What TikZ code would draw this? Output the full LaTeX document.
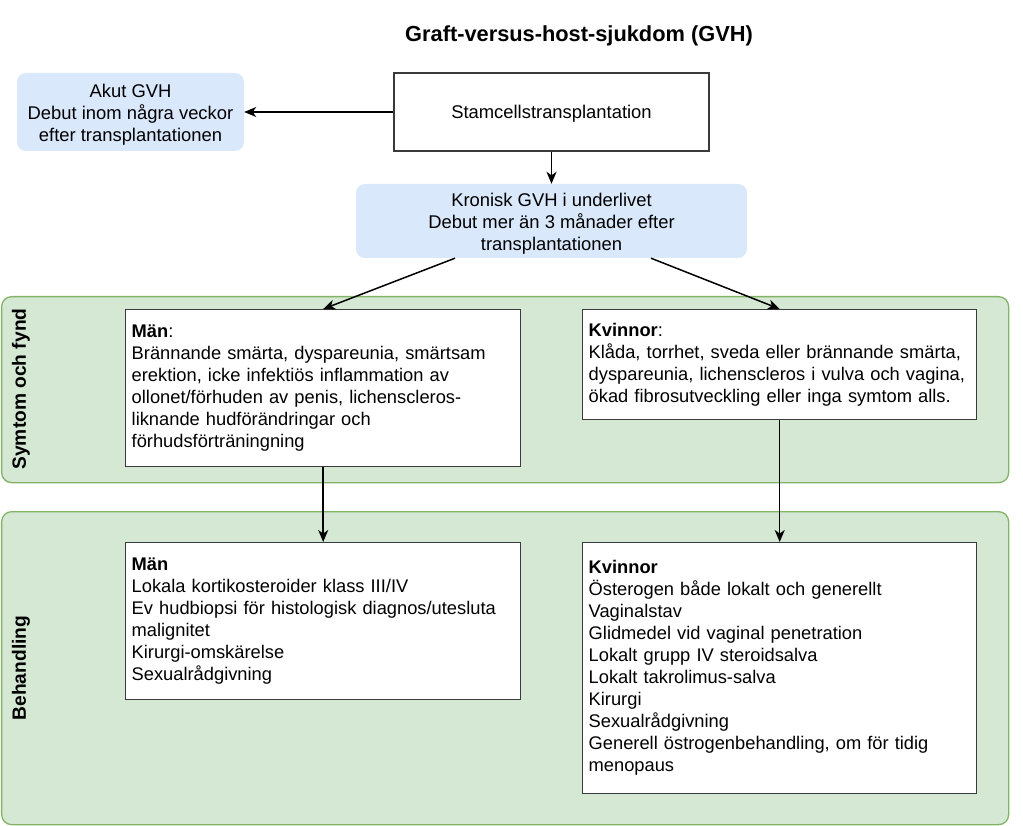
\documentclass[tikz,border=0pt]{standalone}
\usepackage{fontspec}
\setmainfont{Liberation Sans}
\usetikzlibrary{arrows.meta}
\definecolor{blueF}{HTML}{DAE8FC}
\definecolor{greenF}{HTML}{D5E8D4}
\definecolor{greenD}{HTML}{82B366}
\definecolor{boxD}{HTML}{3A3A3A}
\newcommand{\topstrut}{\rule{0pt}{19pt}}
\begin{document}
\begin{tikzpicture}[x=1pt,y=-1pt,
  lane/.style={draw=greenD, fill=greenF, rounded corners=10pt, line width=1.3pt, inner sep=0pt},
  lanelabel/.style={rotate=90, font=\bfseries\fontsize{19.2}{22}\selectfont},
  bluebox/.style={fill=blueF, rounded corners=9pt, align=center, inner sep=0pt, font=\fontsize{18.4}{22}\selectfont},
  wbox/.style={draw=boxD, fill=white, line width=1.4pt, font=\fontsize{18.3}{22}\selectfont, inner xsep=6pt, inner ysep=0pt, align=left, anchor=north west},
  arr/.style={-{Stealth[length=12pt,width=10pt,inset=3.5pt]}, line width=1.5pt, draw=black}
]
\useasboundingbox (0,0) rectangle (1023,826);
\fill[white] (0,0) rectangle (1023,826);

% title
\node[font=\bfseries\fontsize{21.8}{24}\selectfont] (title) at (579,36) {Graft-versus-host-sjukdom (GVH)};

% lanes
\node[lane, minimum width=1007pt, minimum height=186pt, anchor=north west] (lane1) at (1,296) {};
\node[lane, minimum width=1007pt, minimum height=313pt, anchor=north west] (lane2) at (1,511) {};
\node[lanelabel] (lab1) at (21,389) {Symtom och fynd};
\node[lanelabel] (lab2) at (21,668) {Behandling};

% top boxes
\node[bluebox, minimum width=227pt, minimum height=78pt] (akut) at (130.5,112) {\topstrut Akut GVH\\Debut inom några veckor\\efter transplantationen};
\node[draw=boxD, fill=white, line width=1.4pt, minimum width=315pt, minimum height=78pt, text height=17pt, font=\fontsize{18.4}{22}\selectfont] (stam) at (551.5,112) {Stamcellstransplantation};
\node[bluebox, minimum width=391pt, minimum height=74pt] (kron) at (551.5,221) {\topstrut Kronisk GVH i underlivet\\Debut mer än 3 månader efter\\transplantationen};

% symptom boxes
\node[wbox, text width=383pt, minimum height=157pt] (mansymp) at (125,309) {\textbf{Män}:\\Brännande smärta, dyspareunia, smärtsam\\erektion, icke infektiös inflammation av\\ollonet/förhuden av penis, lichenscleros-\\liknande hudförändringar och\\förhudsförträningning};
\node[wbox, text width=382pt, minimum height=110pt] (kvisymp) at (582,309) {\textbf{Kvinnor}:\\Klåda, torrhet, sveda eller brännande smärta,\\dyspareunia, lichenscleros i vulva och vagina,\\ökad fibrosutveckling eller inga symtom alls.};

% treatment boxes
\node[wbox, text width=383pt, minimum height=157pt] (manbeh) at (125,542) {\textbf{Män}\\Lokala kortikosteroider klass III/IV\\Ev hudbiopsi för histologisk diagnos/utesluta\\malignitet\\Kirurgi-omskärelse\\Sexualrådgivning};
\node[wbox, text width=382pt, minimum height=251pt] (kvibeh) at (582,542) {\textbf{Kvinnor}\\Österogen både lokalt och generellt\\Vaginalstav\\Glidmedel vid vaginal penetration\\Lokalt grupp IV steroidsalva\\Lokalt takrolimus-salva\\Kirurgi\\Sexualrådgivning\\Generell östrogenbehandling, om för tidig\\menopaus};

% connectors
\draw[arr] (stam.west) -- (akut.east);
\draw[arr] (stam.south) -- (kron.north);
\draw[arr] ([xshift=-96.5pt]kron.south) -- (mansymp.north);
\draw[arr] ([xshift=99.5pt]kron.south) -- (kvisymp.north);
\draw[arr] (mansymp.south) -- (manbeh.north);
\draw[arr] (kvisymp.south) -- (kvibeh.north);
\end{tikzpicture}
\end{document}
